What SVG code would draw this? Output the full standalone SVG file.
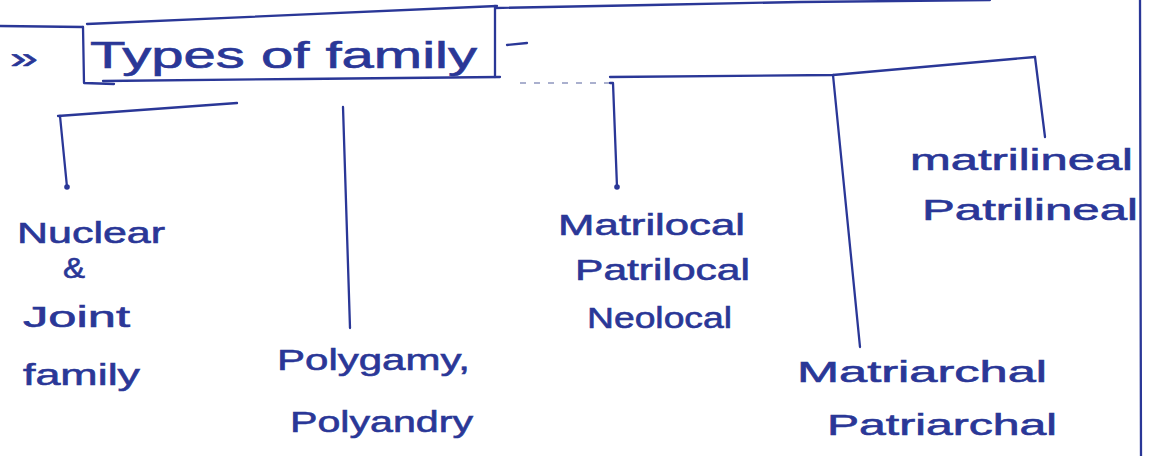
<svg xmlns="http://www.w3.org/2000/svg" width="1150" height="456" viewBox="0 0 1150 456">
  <style>
    .ink { fill: none; stroke: #2a3797; stroke-width: 2.3; stroke-linecap: round; stroke-linejoin: round; }
    .faint { fill: none; stroke: #8e96bf; stroke-width: 1.4; stroke-dasharray: 6 8; }
    .dot { fill: #2a3797; }
    .t { font-family: "Liberation Sans", "DejaVu Sans", sans-serif; fill: #2a3797; stroke: #2a3797; stroke-width: 0.6; font-size: 30px; }
    .title { font-size: 36px; }
  </style>
  <rect width="1150" height="456" fill="#ffffff"/>

  <g id="page">
    <path class="ink" d="M1140 0 L1141 456"/>
    <path class="ink" d="M0 26 L83 27"/>
    <path class="ink" d="M495 8 L650 5 L800 2 L990 0"/>
  </g>

  <g id="title">
    <text class="t" x="10" y="68" font-size="46" textLength="28" lengthAdjust="spacingAndGlyphs">»</text>
    <path class="ink" d="M87 24 L497 6"/>
    <path class="ink" d="M83 27 L84 83 L114 84"/>
    <path class="ink" d="M103 81 L300 79 L500 77"/>
    <path class="ink" d="M495 6 L495 77"/>
    <text class="t title" x="90" y="68" textLength="387" lengthAdjust="spacingAndGlyphs">Types of family</text>
    <path class="ink" d="M507 45 L527 43"/>
  </g>

  <g id="connectors">
    <path class="ink" d="M237 103 L58 116"/>
    <path class="ink" d="M60 116 L67 187"/>
    <circle class="dot" cx="67" cy="187" r="2.8"/>
    <path class="ink" d="M343 107 L350 328"/>
    <path class="faint" d="M520 83 L610 83"/>
    <path class="ink" d="M610 83 L613 83 L617 187"/>
    <circle class="dot" cx="617" cy="187" r="2.8"/>
    <path class="ink" d="M610 77 L833 75 L1035 57"/>
    <path class="ink" d="M833 75 L860 347"/>
    <path class="ink" d="M1035 57 L1045 137"/>
  </g>

  <g id="nuclear-joint">
    <text class="t" x="17" y="243" textLength="148" lengthAdjust="spacingAndGlyphs">Nuclear</text>
    <text class="t" x="63" y="278" font-size="22" textLength="22" lengthAdjust="spacingAndGlyphs">&amp;</text>
    <text class="t" x="23" y="327" textLength="107" lengthAdjust="spacingAndGlyphs">Joint</text>
    <text class="t" x="23" y="385" textLength="117" lengthAdjust="spacingAndGlyphs">family</text>
  </g>

  <g id="polygamy-polyandry">
    <text class="t" x="277" y="370" textLength="193" lengthAdjust="spacingAndGlyphs">Polygamy,</text>
    <text class="t" x="290" y="432" textLength="183" lengthAdjust="spacingAndGlyphs">Polyandry</text>
  </g>

  <g id="residence">
    <text class="t" x="558" y="235" textLength="187" lengthAdjust="spacingAndGlyphs">Matrilocal</text>
    <text class="t" x="575" y="280" textLength="175" lengthAdjust="spacingAndGlyphs">Patrilocal</text>
    <text class="t" x="587" y="328" textLength="145" lengthAdjust="spacingAndGlyphs">Neolocal</text>
  </g>

  <g id="lineage">
    <text class="t" x="910" y="170" textLength="223" lengthAdjust="spacingAndGlyphs">matrilineal</text>
    <text class="t" x="922" y="220" textLength="216" lengthAdjust="spacingAndGlyphs">Patrilineal</text>
  </g>

  <g id="authority">
    <text class="t" x="797" y="382" textLength="250" lengthAdjust="spacingAndGlyphs">Matriarchal</text>
    <text class="t" x="827" y="435" textLength="230" lengthAdjust="spacingAndGlyphs">Patriarchal</text>
  </g>
</svg>
